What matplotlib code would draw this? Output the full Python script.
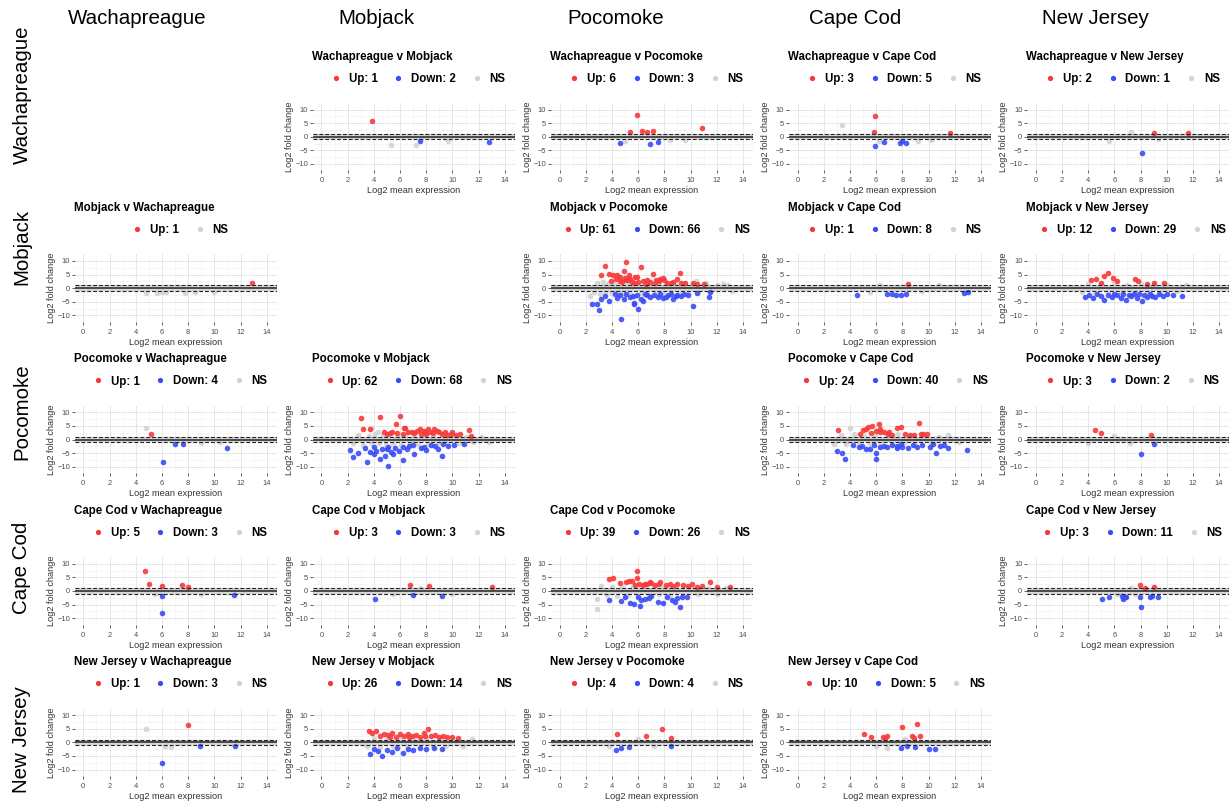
import matplotlib.pyplot as plt
from matplotlib.lines import Line2D

plt.rcParams['font.family'] = ['Liberation Sans', 'DejaVu Sans']

sites = ['Wachapreague', 'Mobjack', 'Pocomoke', 'Cape Cod', 'New Jersey']

# each comparison: significant up / down and a few non-significant (NS) genes
# as (log2 mean expression, log2 fold change)
wach_mob_up = [(3.9, 5.8)]
wach_mob_down = [(7.5, -1.6), (12.8, -1.8)]
wach_mob_ns = [(5.3, -3.0), (7.2, -3.0), (9.7, -1.5)]

wach_poc_up = [(5.9, 7.8), (5.4, 1.8), (6.3, 2.1), (6.7, 1.7), (7.1, 2.2), (10.9, 3.1)]
wach_poc_down = [(4.6, -2.4), (6.9, -2.5), (7.5, -2.0)]
wach_poc_ns = [(5.0, -1.4), (8.4, -1.3), (9.6, -1.2)]

wach_cc_up = [(5.9, 7.6), (5.8, 1.9), (11.6, 1.3)]
wach_cc_down = [(5.9, -3.6), (6.6, -1.8), (7.8, -2.2), (8.0, -1.4), (8.3, -2.4)]
wach_cc_ns = [(3.4, 4.2), (6.2, -1.5), (9.2, -1.4), (10.2, -1.2)]

wach_nj_up = [(9.0, 1.5), (11.65, 1.5)]
wach_nj_down = [(8.1, -6.0)]
wach_nj_ns = [(5.6, -1.5), (7.25, 1.6), (9.3, -0.7)]

mob_wach_up = [(12.9, 2.0)]
mob_wach_down = []
mob_wach_ns = [(4.8, -1.9), (5.6, -1.9), (6.0, -1.5), (6.3, -1.4), (7.8, -1.8), (8.5, -1.4), (10.0, -1.4)]

mob_poc_up = [(3.16, 4.7), (3.5, 8.2), (3.8, 5.3), (4.1, 4.7), (4.4, 4.7), (4.6, 4.2), (4.9, 6.4),
              (5.1, 9.6), (5.0, 3.7), (5.3, 4.7), (5.4, 3.3), (5.8, 4.0), (5.9, 4.1), (6.2, 7.7),
              (6.4, 2.5), (6.7, 2.8), (7.1, 5.2), (7.4, 2.8), (7.7, 3.3), (7.9, 3.7), (8.2, 2.0),
              (9.0, 3.3), (9.2, 5.7), (9.3, 1.8), (10.2, 2.0), (11.0, 1.5), (4.6, 2.7), (4.8, 2.2),
              (5.2, 2.9), (5.5, 2.4), (5.7, 1.8), (6.0, 2.2), (6.9, 2.3), (7.3, 1.9), (7.6, 2.6),
              (8.0, 2.8), (8.5, 1.9), (8.7, 2.3), (9.6, 1.7), (10.5, 1.6), (4.3, 3.3), (3.9, 2.6),
              (5.1, 3.1), (6.6, 1.6)]
mob_poc_down = [(2.5, -5.8), (2.9, -5.8), (3.05, -8.0), (3.2, -4.1), (3.8, -4.6), (4.6, -2.6),
                (4.9, -4.1), (5.4, -3.3), (5.65, -5.3), (5.7, -5.8), (5.95, -2.6), (6.0, -7.8),
                (6.2, -4.1), (6.4, -4.8), (4.7, -11.2), (6.7, -2.6), (7.2, -2.6), (7.5, -3.4),
                (7.9, -3.6), (8.3, -2.6), (8.7, -3.9), (9.0, -2.6), (9.5, -2.1), (10.2, -6.6),
                (10.5, -1.7), (11.4, -3.4), (11.5, -1.4), (4.2, -2.3), (5.1, -2.1), (5.6, -2.9),
                (6.9, -3.1), (7.7, -2.2), (8.1, -3.2), (8.5, -2.1), (8.9, -3.0), (9.3, -2.8),
                (9.8, -2.4), (3.5, -3.0), (4.4, -3.7), (6.5, -2.1)]
mob_poc_ns = [(2.3, -2.8), (2.6, -1.5), (2.9, 1.8), (3.1, -2.2), (3.3, 2.4), (3.5, -1.9), (3.7, 1.5),
              (3.9, -1.8), (4.1, 2.2), (4.2, -1.6), (4.4, 1.2), (4.6, -1.5), (4.8, 2.7), (5.0, -2.2),
              (5.2, 1.6), (5.4, -1.3), (5.6, 2.3), (5.8, -2.9), (6.0, 1.4), (6.2, -1.7), (6.5, 2.0),
              (6.7, -2.3), (7.0, 1.3), (7.3, -1.5), (7.6, 1.9), (7.9, -2.0), (8.2, 1.4), (8.5, -1.6),
              (8.8, 1.7), (9.1, -1.4), (9.5, 1.5), (9.8, -1.8), (10.2, 1.2), (10.6, -1.3), (11.0, 1.3),
              (11.5, -1.2), (12.0, 1.1), (12.5, 1.6), (12.9, 1.2), (13.2, -1.0), (10.4, 2.7), (11.2, 1.8)]

mob_cc_up = [(8.4, 1.5)]
mob_cc_down = [(4.5, -2.5), (6.8, -2.3), (7.2, -2.0), (7.5, -2.6), (7.9, -2.4), (8.3, -2.2),
               (12.7, -1.7), (13.0, -1.4)]
mob_cc_ns = [(5.5, -1.3), (6.3, 1.2), (9.5, -1.2), (10.8, 1.1)]

mob_nj_up = [(4.2, 2.8), (4.6, 3.3), (5.2, 4.3), (5.5, 5.5), (5.9, 3.6), (6.2, 2.6), (7.6, 3.5),
             (7.8, 2.5), (8.5, 1.6), (9.0, 2.0), (9.8, 1.7), (5.0, 2.0)]
mob_nj_down = [(3.8, -3.2), (4.1, -2.4), (4.4, -3.8), (4.7, -2.1), (5.0, -2.9), (5.2, -4.2),
               (5.5, -2.4), (5.8, -3.3), (6.0, -2.0), (6.2, -2.7), (6.5, -3.6), (6.7, -2.2),
               (6.9, -4.4), (7.1, -2.6), (7.3, -3.0), (7.5, -2.3), (7.7, -3.5), (7.9, -2.1),
               (8.1, -4.8), (8.3, -2.6), (8.5, -3.1), (8.7, -2.2), (8.9, -2.8), (9.1, -3.4),
               (9.4, -2.3), (9.7, -2.9), (10.0, -2.1), (10.5, -2.6), (11.2, -3.0)]
mob_nj_ns = [(3.5, -1.5), (4.0, 1.6), (4.5, -1.8), (5.0, 1.4), (5.5, -1.3), (6.0, 1.8), (6.5, -1.5),
             (7.0, 1.3), (7.5, -1.7), (8.0, 1.5), (8.5, -1.4), (9.0, 1.2), (9.5, -1.3), (10.0, 1.3),
             (10.8, -1.2), (11.5, 1.1)]

poc_wach_up = [(5.2, 2.2)]
poc_wach_down = [(6.05, -8.2), (7.0, -1.8), (7.6, -1.8), (11.0, -3.0)]
poc_wach_ns = [(4.8, 4.4), (10.4, -1.0), (9.0, -1.2)]

poc_mob_up = [(3.0, 8.0), (3.2, 4.0), (4.5, 8.3), (5.7, 5.6), (6.0, 8.5), (6.3, 4.1), (6.4, 4.4),
              (5.0, 2.2), (5.4, 2.8), (6.9, 2.9), (7.5, 3.7), (7.8, 3.2), (8.1, 3.7), (8.6, 3.7),
              (8.8, 3.2), (9.0, 2.8), (9.4, 2.7), (9.9, 2.2), (10.3, 1.6), (11.3, 3.4), (11.4, 1.2),
              (3.7, 3.9), (5.2, 2.5), (5.8, 2.3), (6.6, 2.6), (7.1, 2.4), (7.3, 3.0), (7.9, 2.6),
              (8.3, 2.9), (8.5, 2.3), (9.2, 2.1), (9.6, 1.8), (10.0, 2.6), (10.6, 1.9), (7.6, 2.2),
              (8.0, 2.0), (6.2, 2.0), (4.8, 2.6)]
poc_mob_down = [(2.45, -6.6), (2.8, -4.8), (3.5, -8.2), (3.7, -4.5), (4.0, -5.4), (4.2, -4.1),
                (4.5, -7.3), (4.85, -6.1), (5.1, -9.8), (5.0, -3.4), (5.1, -2.7), (5.3, -4.5),
                (5.9, -4.1), (6.2, -7.6), (6.2, -2.7), (6.7, -2.4), (7.1, -5.4), (7.6, -3.3),
                (8.0, -3.7), (8.4, -2.0), (8.9, -3.4), (9.2, -5.9), (9.3, -1.7), (10.1, -2.0),
                (10.9, -1.7), (4.0, -2.9), (2.2, -3.9), (4.6, -3.5), (5.6, -3.0), (6.5, -3.5),
                (7.0, -2.2), (7.8, -2.6), (8.7, -2.4), (9.7, -2.3), (3.3, -3.3), (5.5, -5.5)]
poc_mob_ns = [(2.4, -1.4), (2.8, 1.6), (3.2, -2.1), (3.6, 1.3), (3.9, -1.6), (4.1, 2.0), (4.4, -1.3),
              (4.7, 1.5), (4.9, -2.2), (5.2, 1.7), (5.5, -1.5), (5.8, 1.4), (6.1, -1.9), (6.4, 1.6),
              (6.8, -1.4), (7.1, 1.5), (7.4, -1.7), (7.8, 1.3), (8.1, -1.5), (8.5, 1.4), (8.9, -1.2),
              (9.3, 1.3), (9.7, -1.4), (10.1, 1.2), (10.5, -1.3), (11.0, 1.1), (11.6, -1.1),
              (12.2, 1.0), (12.8, -1.1), (3.8, 4.1), (4.3, 2.7)]

poc_cc_up = [(3.1, 3.4), (5.0, 3.4), (5.2, 3.9), (5.4, 4.7), (5.7, 4.9), (6.2, 5.6), (6.3, 3.7),
             (6.3, 2.7), (6.6, 2.9), (7.6, 4.4), (7.9, 4.6), (9.3, 5.9), (9.4, 2.2), (9.6, 2.2),
             (9.9, 2.0), (4.8, 2.0), (5.6, 2.3), (6.9, 2.1), (7.2, 1.8), (8.2, 2.0), (8.6, 1.7),
             (6.0, 3.0), (7.0, 2.6), (8.9, 1.6)]
poc_cc_down = [(3.0, -4.3), (3.4, -4.9), (3.6, -7.0), (4.65, -2.9), (5.2, -3.4), (5.5, -3.5),
               (6.0, -4.9), (6.0, -7.1), (6.6, -2.4), (6.8, -2.9), (7.6, -2.4), (7.6, -3.1),
               (8.4, -3.1), (9.1, -2.7), (10.1, -2.7), (10.6, -5.0), (10.9, -2.4), (11.5, -3.1),
               (12.9, -3.7), (4.2, -2.2), (5.8, -2.1), (7.2, -2.0), (8.0, -2.6), (8.8, -2.2),
               (9.5, -2.0), (4.9, -2.5), (6.3, -2.6), (7.9, -1.8), (10.3, -1.8), (11.2, -1.9)]
poc_cc_ns = [(2.8, -1.5), (3.3, 1.6), (3.7, -1.8), (4.0, 4.1), (4.3, 1.9), (4.7, -1.4), (5.1, 1.4),
             (5.5, -1.6), (5.9, 1.6), (6.4, -1.3), (6.8, 1.5), (7.2, -1.5), (7.7, 2.1), (8.1, -1.3),
             (8.6, 1.4), (9.0, -1.4), (9.6, 1.3), (10.2, -1.2), (10.8, 1.1), (11.5, 1.6), (12.3, -1.1)]

poc_nj_up = [(4.5, 3.6), (5.0, 2.3), (8.8, 1.6)]
poc_nj_down = [(8.0, -5.2), (9.0, -1.5)]
poc_nj_ns = [(4.0, -1.3), (6.0, 1.2), (7.2, -1.2)]

cc_wach_up = [(4.7, 7.5), (5.0, 2.5), (6.0, 1.8), (7.5, 2.0), (8.0, 1.6)]
cc_wach_down = [(6.0, -1.8), (6.0, -8.0), (11.5, -1.5)]
cc_wach_ns = [(5.5, -1.2), (9.0, -1.3)]

cc_mob_up = [(6.8, 2.3), (8.2, 1.8), (13.0, 1.3)]
cc_mob_down = [(4.1, -2.8), (7.0, -1.5), (9.2, -1.7)]
cc_mob_ns = [(5.5, -1.3), (7.5, 1.2), (10.0, -1.2)]

cc_poc_up = [(3.75, 4.4), (4.1, 4.9), (4.6, 3.0), (5.1, 3.3), (5.3, 3.6), (5.5, 3.8), (5.95, 7.2),
             (5.95, 4.9), (6.1, 2.7), (6.7, 2.7), (6.9, 3.1), (7.0, 2.8), (7.6, 2.7), (7.7, 3.2),
             (8.45, 2.7), (8.95, 2.7), (10.1, 2.7), (10.9, 1.9), (11.5, 3.3), (13.0, 1.3),
             (5.8, 2.2), (6.4, 2.1), (7.3, 2.0), (8.1, 2.2), (9.4, 2.0), (9.8, 1.8), (10.5, 1.6),
             (12.0, 1.6), (6.5, 2.5), (8.7, 1.8)]
cc_poc_down = [(3.8, -3.3), (4.7, -3.6), (5.4, -4.4), (5.7, -4.8), (6.15, -5.5), (6.2, -3.3),
               (6.5, -2.8), (7.55, -3.9), (7.9, -4.3), (8.6, -3.3), (8.8, -3.9), (9.2, -5.8),
               (9.35, -2.1), (9.7, -2.1), (5.0, -2.3), (6.0, -2.2), (7.0, -2.0), (8.2, -2.1),
               (9.0, -2.6), (6.8, -2.5)]
cc_poc_ns = [(2.85, -3.1), (2.9, -6.6), (3.2, 1.8), (3.6, -1.6), (4.0, 1.5), (4.4, -1.9), (4.8, 1.4),
             (5.2, -1.5), (5.6, 1.7), (6.0, -1.3), (6.4, 1.3), (6.8, -1.6), (7.2, 1.5), (7.6, -1.3),
             (8.0, 1.4), (8.4, -1.5), (8.9, 1.2), (9.4, -1.3), (10.0, 1.2), (10.6, -1.2), (11.3, 1.1),
             (12.0, -1.0), (12.7, 1.1)]

cc_nj_up = [(7.95, 2.1), (8.35, 1.2), (9.0, 1.5)]
cc_nj_down = [(5.05, -2.9), (5.6, -2.1), (6.6, -1.8), (6.65, -2.9), (6.8, -2.4), (6.9, -2.2),
              (8.0, -5.8), (7.95, -2.4), (8.7, -2.4), (8.9, -1.8), (9.3, -2.4)]
cc_nj_ns = [(7.3, 1.0), (7.6, -1.2), (6.2, -1.2)]

nj_wach_up = [(8.0, 6.2)]
nj_wach_down = [(6.0, -7.5), (8.9, -1.3), (11.6, -1.2)]
nj_wach_ns = [(4.8, 4.8), (6.7, -1.8), (6.2, -1.3)]

nj_mob_up = [(3.6, 4.0), (3.9, 3.3), (4.2, 4.2), (4.5, 2.2), (4.8, 3.0), (5.1, 2.6), (5.4, 3.4),
             (5.7, 2.1), (6.0, 2.9), (6.3, 2.4), (6.6, 3.1), (6.9, 2.2), (7.2, 2.7), (7.5, 2.0),
             (7.8, 3.6), (8.1, 5.0), (8.4, 2.4), (8.7, 2.8), (9.0, 1.9), (9.3, 2.3), (9.6, 2.0),
             (10.0, 1.8), (10.4, 1.6), (5.2, 2.0), (6.7, 1.8), (7.9, 2.2)]
nj_mob_down = [(3.7, -4.2), (4.0, -2.5), (4.3, -3.2), (4.6, -5.2), (5.0, -2.8), (5.4, -3.6),
               (5.8, -2.1), (6.2, -4.0), (6.6, -2.4), (7.0, -3.0), (7.5, -2.2), (8.0, -2.6),
               (8.6, -2.0), (9.2, -2.3)]
nj_mob_ns = [(3.5, -1.5), (4.0, 1.6), (4.5, -1.8), (5.0, 1.4), (5.5, -1.3), (6.0, 1.8), (6.5, -1.5),
             (7.0, 1.3), (7.5, -1.7), (8.0, 1.5), (8.5, -1.4), (9.0, 1.2), (9.5, -1.3), (10.0, 1.3),
             (10.8, -1.2), (11.5, 1.1)]

nj_poc_up = [(4.4, 3.0), (6.6, 2.2), (7.8, 5.0), (8.5, 1.6)]
nj_poc_down = [(4.3, -2.8), (4.7, -2.0), (5.3, -1.6), (8.5, -1.5)]
nj_poc_ns = [(3.8, -1.3), (6.0, 1.2), (7.2, -1.4)]

nj_cc_up = [(5.05, 2.9), (5.6, 1.9), (6.5, 1.9), (6.7, 1.6), (6.85, 2.2), (8.0, 5.7), (8.7, 2.2),
            (8.9, 1.7), (9.15, 6.7), (9.35, 2.2)]
nj_cc_down = [(7.9, -2.2), (8.35, -1.5), (9.0, -1.7), (10.0, -2.5), (10.5, -2.5)]
nj_cc_ns = [(6.0, -1.5), (6.8, -2.0), (8.2, 1.1)]

# (row, col, up count, down count, up, down, ns); down count None -> no legend entry
panels = [
    (0, 1, 1, 2, wach_mob_up, wach_mob_down, wach_mob_ns),
    (0, 2, 6, 3, wach_poc_up, wach_poc_down, wach_poc_ns),
    (0, 3, 3, 5, wach_cc_up, wach_cc_down, wach_cc_ns),
    (0, 4, 2, 1, wach_nj_up, wach_nj_down, wach_nj_ns),
    (1, 0, 1, None, mob_wach_up, mob_wach_down, mob_wach_ns),
    (1, 2, 61, 66, mob_poc_up, mob_poc_down, mob_poc_ns),
    (1, 3, 1, 8, mob_cc_up, mob_cc_down, mob_cc_ns),
    (1, 4, 12, 29, mob_nj_up, mob_nj_down, mob_nj_ns),
    (2, 0, 1, 4, poc_wach_up, poc_wach_down, poc_wach_ns),
    (2, 1, 62, 68, poc_mob_up, poc_mob_down, poc_mob_ns),
    (2, 3, 24, 40, poc_cc_up, poc_cc_down, poc_cc_ns),
    (2, 4, 3, 2, poc_nj_up, poc_nj_down, poc_nj_ns),
    (3, 0, 5, 3, cc_wach_up, cc_wach_down, cc_wach_ns),
    (3, 1, 3, 3, cc_mob_up, cc_mob_down, cc_mob_ns),
    (3, 2, 39, 26, cc_poc_up, cc_poc_down, cc_poc_ns),
    (3, 4, 3, 11, cc_nj_up, cc_nj_down, cc_nj_ns),
    (4, 0, 1, 3, nj_wach_up, nj_wach_down, nj_wach_ns),
    (4, 1, 26, 14, nj_mob_up, nj_mob_down, nj_mob_ns),
    (4, 2, 4, 4, nj_poc_up, nj_poc_down, nj_poc_ns),
    (4, 3, 10, 5, nj_cc_up, nj_cc_down, nj_cc_ns),
]

W, H = 1230, 806
UP_COL, DOWN_COL, NS_COL = '#F8393A', '#3A4CF8', '#D3D3D3'
XLIM = (-0.65, 14.75)
YLIM = (-12.4, 12.4)
XSCALE, YSCALE = 13.1, 2.72   # pixels per data unit


def fx(px):
    return px / W


def fy(py):
    return 1 - py / H


fig = plt.figure(figsize=(W / 100, H / 100), dpi=100)

for c, name in enumerate(sites):
    fig.text(fx(137 + 239.5 * c), fy(19), name, fontsize=14.8, ha='center', va='center')
row_label_y = [95, 247, 412, 568, 740]
for r, name in enumerate(sites):
    fig.text(fx(22), fy(row_label_y[r]), name, fontsize=14.8, rotation=90,
             ha='center', va='center')


def draw_panel(r, c, n_up, n_down, up, down, ns):
    x0 = 83.3 + 238.1 * c          # pixel position of x = 0
    y0 = 136.7 + 151.4 * r         # pixel position of y = 0
    left = x0 + XLIM[0] * XSCALE
    width = (XLIM[1] - XLIM[0]) * XSCALE
    top = y0 - YLIM[1] * YSCALE
    height = (YLIM[1] - YLIM[0]) * YSCALE
    ax = fig.add_axes([fx(left), fy(top + height), fx(width), height / H])
    ax.set_xlim(*XLIM)
    ax.set_ylim(*YLIM)
    ax.set_xticks(range(0, 15, 2))
    ax.set_xticks(range(1, 15, 2), minor=True)
    ax.set_yticks([-10, -5, 0, 5, 10])
    ax.set_yticks([-7.5, -2.5, 2.5, 7.5], minor=True)
    ax.grid(which='major', color='#E6E6E6', lw=0.7)
    ax.grid(which='minor', color='#F2F2F2', lw=0.45)
    ax.set_axisbelow(True)
    for s in ax.spines.values():
        s.set_visible(False)
    ax.tick_params(which='major', length=2, width=0.6, color='#444444',
                   labelsize=5.4, labelcolor='#4D4D4D', pad=1.5)
    ax.tick_params(axis='x', which='major', pad=3)
    ax.tick_params(which='minor', length=0)

    ax.axhspan(-1, 1, color='#D6D6D6', lw=0, zorder=1)
    ax.axhline(0, color='#222222', lw=1.1, zorder=4)
    for yy in (-1, 1):
        ax.axhline(yy, color='#222222', lw=0.8, ls=(0, (3.5, 1.8)), zorder=4)

    for pts, col in ((ns, NS_COL), (down, DOWN_COL), (up, UP_COL)):
        if pts:
            ax.scatter([p[0] for p in pts], [p[1] for p in pts], s=16, c=col,
                       alpha=0.9, lw=0, zorder=3)

    ax.set_xlabel('Log2 mean expression', fontsize=6.6, color='#333333', labelpad=1.5)
    ax.set_ylabel('Log2 fold change', fontsize=6.6, color='#333333', labelpad=1)

    fig.text(fx(left - 1), fy(y0 - 80), f'{sites[r]} v {sites[c]}', fontsize=8.3,
             fontweight='bold', ha='left', va='center')

    handles = [Line2D([], [], ls='', marker='o', ms=3.8, color=UP_COL, mew=0)]
    labels = [f'Up: {n_up}']
    if n_down is not None:
        handles.append(Line2D([], [], ls='', marker='o', ms=3.8, color=DOWN_COL, mew=0))
        labels.append(f'Down: {n_down}')
    handles.append(Line2D([], [], ls='', marker='o', ms=3.8, color=NS_COL, mew=0))
    labels.append('NS')
    ax.legend(handles, labels, loc='center', ncol=len(labels), frameon=False,
              bbox_to_anchor=(fx(left + 105), fy(y0 - 58)), bbox_transform=fig.transFigure,
              prop={'weight': 'bold', 'size': 8.3}, handlelength=1.0, handletextpad=0.6,
              columnspacing=1.3, borderpad=0)


for p in panels:
    draw_panel(*p)

fig.savefig('out.png', dpi=100)
